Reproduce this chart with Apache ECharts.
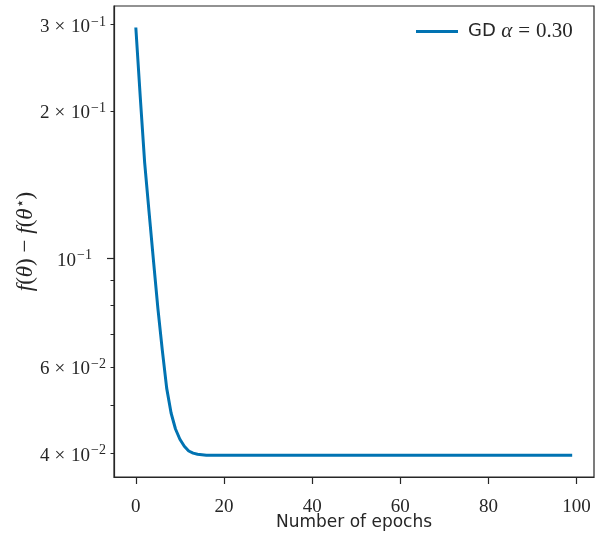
<!DOCTYPE html>
<html>
<head>
<meta charset="utf-8">
<script src="https://cdn.jsdelivr.net/npm/echarts@6/dist/echarts.min.js"></script>
<style>
html,body{margin:0;padding:0;background:#fff;}
#chart{width:597px;height:539px;}
</style>
</head>
<body>
<div id="chart"></div>
<script>
const epochs = [];
for (let i = 0; i < 100; i++) epochs.push(i);
const gapValues = [
  0.296, 0.214, 0.157, 0.1244, 0.0990, 0.0791, 0.0650, 0.0543, 0.0483, 0.0448,
  0.0427, 0.0413, 0.0404, 0.0400, 0.0398, 0.0397, 0.0396, 0.0396, 0.0396, 0.0396,
  0.0396, 0.0396, 0.0396, 0.0396, 0.0396, 0.0396, 0.0396, 0.0396, 0.0396, 0.0396,
  0.0396, 0.0396, 0.0396, 0.0396, 0.0396, 0.0396, 0.0396, 0.0396, 0.0396, 0.0396,
  0.0396, 0.0396, 0.0396, 0.0396, 0.0396, 0.0396, 0.0396, 0.0396, 0.0396, 0.0396,
  0.0396, 0.0396, 0.0396, 0.0396, 0.0396, 0.0396, 0.0396, 0.0396, 0.0396, 0.0396,
  0.0396, 0.0396, 0.0396, 0.0396, 0.0396, 0.0396, 0.0396, 0.0396, 0.0396, 0.0396,
  0.0396, 0.0396, 0.0396, 0.0396, 0.0396, 0.0396, 0.0396, 0.0396, 0.0396, 0.0396,
  0.0396, 0.0396, 0.0396, 0.0396, 0.0396, 0.0396, 0.0396, 0.0396, 0.0396, 0.0396,
  0.0396, 0.0396, 0.0396, 0.0396, 0.0396, 0.0396, 0.0396, 0.0396, 0.0396, 0.0396
];
const xTicks = [0, 20, 40, 60, 80, 100];
const yMinorTicks = [0.04, 0.05, 0.06, 0.07, 0.08, 0.09, 0.2, 0.3];
const yMinorLabels = [0.04, 0.06, 0.2, 0.3];
const yMajorTicks = [0.1];
const seriesName = 'GD α = 0.30';

const labelText = {
  0.04: ['4', '−2'], 0.06: ['6', '−2'], 0.2: ['2', '−1'], 0.3: ['3', '−1'], 0.1: [null, '−1']
};
function fmtY(v) {
  let key = null;
  for (const k in labelText) { if (Math.abs(v - Number(k)) < 1e-6) key = k; }
  if (key === null) return '';
  const p = labelText[key];
  if (p[0] === null) return '{b|10}{s|' + p[1] + '}';
  return '{b|' + p[0] + '}{x|×}{b|10}{s|' + p[1] + '}';
}
const serif = '"Liberation Serif", "DejaVu Serif", serif';
const sans = '"DejaVu Sans", sans-serif';
const ink = '#262626';
const richY = {
  b: {fontFamily: serif, fontSize: 19, color: ink, padding: [5, 0, 0, 0]},
  x: {fontFamily: serif, fontSize: 19, color: ink, padding: [5, 6, 0, 5]},
  s: {fontFamily: serif, fontSize: 14, color: ink, padding: [0, 0, 5, 1]}
};

const chart = echarts.init(document.getElementById('chart'));
chart.setOption({
  animation: false,
  backgroundColor: '#fff',
  grid: {left: 114, right: 3, top: 6, bottom: 62, outerBoundsMode: 'none', containLabel: false,
         show: true, borderColor: ink, borderWidth: 1.2, backgroundColor: 'transparent'},
  legend: {
    left: 416, top: 21, padding: 0, itemWidth: 42, itemHeight: 3, itemGap: 0,
    icon: 'rect',
    data: [seriesName],
    formatter: function () { return '{g|GD} {m|α}{n|=}{n|0.30}'; },
    textStyle: {
      padding: [0, 0, 0, 5],
      rich: {
        g: {fontFamily: sans, fontSize: 18, color: ink, padding: [0, 2, 0, 0]},
        m: {fontFamily: serif, fontStyle: 'italic', fontSize: 21, color: ink, padding: [0, 6, 0, 0]},
        n: {fontFamily: serif, fontSize: 21, color: ink, padding: [0, 6, 0, 0]}
      }
    }
  },
  xAxis: {
    type: 'value', min: -4.95, max: 103.95,
    name: 'Number of epochs', nameLocation: 'middle', nameGap: 37, nameMoveOverlap: false,
    nameTextStyle: {fontFamily: sans, fontSize: 17, color: ink},
    axisLine: {show: true, onZero: false, lineStyle: {color: ink, width: 1.2}},
    axisTick: {show: true, length: 7, lineStyle: {color: ink, width: 1.2}, customValues: xTicks},
    axisLabel: {customValues: xTicks, margin: 21, fontFamily: serif, fontSize: 19, color: ink},
    splitLine: {show: false}
  },
  yAxis: [{
    type: 'log', logBase: 10, min: 0.03575, max: 0.3275,
    name: '{i|f}{r|(}{i|θ}{r|) − }{i|f}{r|(}{i|θ}{s|⋆}{r|)}',
    nameLocation: 'middle', nameGap: 76, nameRotate: 90, nameMoveOverlap: false,
    nameTextStyle: {
      rich: {
        i: {fontFamily: serif, fontStyle: 'italic', fontSize: 23, color: ink},
        r: {fontFamily: serif, fontSize: 23, color: ink},
        s: {fontFamily: serif, fontSize: 15, color: ink, padding: [0, 0, 9, 0]}
      }
    },
    axisLine: {show: true, onZero: false, lineStyle: {color: ink, width: 1.2}},
    axisTick: {show: true, length: 3.5, lineStyle: {color: ink, width: 1}, customValues: yMinorTicks},
    axisLabel: {customValues: yMinorLabels, margin: 8, formatter: fmtY, rich: richY},
    splitLine: {show: false}, minorTick: {show: false}
  }, {
    type: 'log', logBase: 10, min: 0.03575, max: 0.3275, position: 'left',
    axisLine: {show: false, onZero: false},
    axisTick: {show: true, length: 7, lineStyle: {color: ink, width: 1.2}, customValues: yMajorTicks},
    axisLabel: {customValues: yMajorTicks, margin: 22, formatter: fmtY, rich: richY},
    splitLine: {show: false}
  }],
  series: [{
    name: seriesName, type: 'line', showSymbol: false, symbol: 'none',
    data: epochs.map((e, i) => [e, gapValues[i]]),
    lineStyle: {color: '#0173b2', width: 3},
    itemStyle: {color: '#0173b2'},
    clip: true
  }]
});
</script>
</body>
</html>
